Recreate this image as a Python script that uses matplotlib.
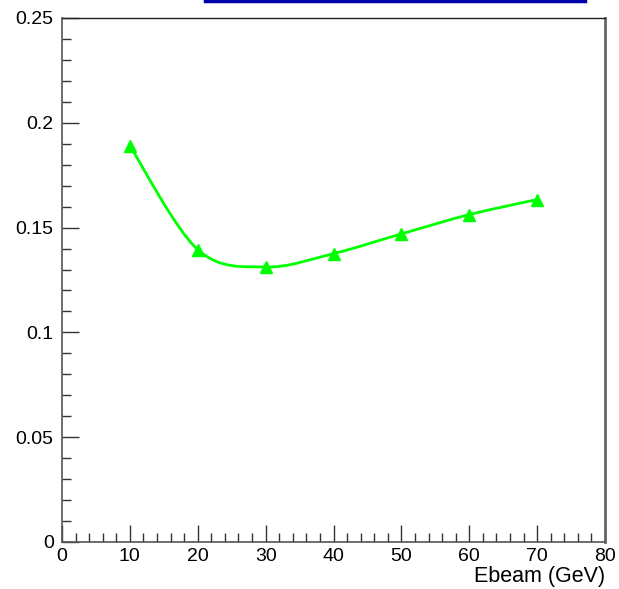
import numpy as np
import matplotlib.pyplot as plt
from matplotlib.path import Path
from matplotlib.patches import PathPatch
from matplotlib.lines import Line2D
from matplotlib.ticker import MultipleLocator

plt.rcParams['font.family'] = ['Liberation Sans', 'DejaVu Sans']

# data
ebeam = [10, 20, 30, 40, 50, 60, 70]
value = [0.189, 0.1395, 0.1312, 0.1376, 0.1470, 0.1562, 0.1634]

fig = plt.figure(figsize=(6.19, 5.89), dpi=100)
ax = fig.add_axes([62 / 619, 47 / 589, 543 / 619, 524 / 589])

# smooth curve through the points (Catmull-Rom drawn as bezier segments)
x = np.array(ebeam, dtype=float)
y = np.array(value, dtype=float)
verts = [(x[0], y[0])]
codes = [Path.MOVETO]
n = len(x)
for i in range(n - 1):
    p0 = (x[max(i - 1, 0)], y[max(i - 1, 0)])
    p1 = (x[i], y[i])
    p2 = (x[i + 1], y[i + 1])
    p3 = (x[min(i + 2, n - 1)], y[min(i + 2, n - 1)])
    c1 = (p1[0] + (p2[0] - p0[0]) / 6, p1[1] + (p2[1] - p0[1]) / 6)
    c2 = (p2[0] - (p3[0] - p1[0]) / 6, p2[1] - (p3[1] - p1[1]) / 6)
    verts += [c1, c2, p2]
    codes += [Path.CURVE4] * 3
ax.add_patch(PathPatch(Path(verts, codes), facecolor='none', edgecolor='#00ff00', lw=2.0, zorder=3))
ax.plot(ebeam, value, linestyle='none', marker='^', color='#00ff00', ms=8, zorder=4)

ax.set_xlim(0, 80)
ax.set_ylim(0, 0.25)
ax.xaxis.set_major_locator(MultipleLocator(10))
ax.xaxis.set_minor_locator(MultipleLocator(2))
ax.yaxis.set_major_locator(MultipleLocator(0.05))
ax.yaxis.set_minor_locator(MultipleLocator(0.01))
ax.set_yticks([0, 0.05, 0.1, 0.15, 0.2, 0.25])
ax.set_yticklabels(['0', '0.05', '0.1', '0.15', '0.2', '0.25'])

ax.tick_params(which='both', direction='in', labelsize=14, color='#333333')
ax.tick_params(axis='y', which='both', right=False, pad=6)
ax.tick_params(axis='x', which='both', top=False, pad=4)
ax.tick_params(which='major', length=12, width=1)
ax.tick_params(which='minor', length=6.5, width=1)

for side in ['left', 'bottom']:
    ax.spines[side].set_color('#555555')
    ax.spines[side].set_linewidth(1.2)
ax.spines['right'].set_color('#666666')
ax.spines['right'].set_linewidth(2)
ax.spines['top'].set_color('#222222')
ax.spines['top'].set_linewidth(1)

ax.set_xlabel('Ebeam (GeV)', fontsize=15.5, loc='right', labelpad=1)

# edge of the title box cut off at the top
fig.add_artist(Line2D([205 / 619, 585 / 619], [1 - 1 / 589, 1 - 1 / 589],
                      transform=fig.transFigure, color='#0000aa', lw=2.5))

fig.savefig('out.png', dpi=100)
